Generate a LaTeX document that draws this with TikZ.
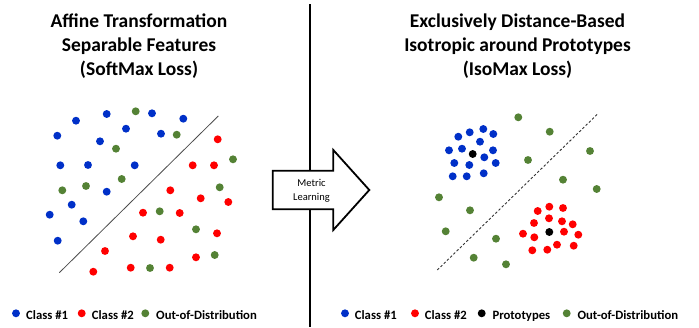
\documentclass[tikz,border=0pt]{standalone}
\usepackage{fontspec}
\setmainfont{Carlito}
\usepackage{tikz}
\usetikzlibrary{positioning}
\definecolor{clsblue}{HTML}{0030C8}
\definecolor{clsred}{HTML}{FF0000}
\definecolor{oodgreen}{HTML}{548235}
\tikzset{
  title/.style={font=\fontsize{19.5}{24}\selectfont\bfseries, align=center},
  legend/.style={font=\fontsize{12.7}{15}\selectfont\bfseries, inner sep=0pt, anchor=base west},
  arrowtext/.style={font=\fontsize{10.5}{13.6}\selectfont, align=center, inner sep=0pt},
  blockarrow/.style={draw, fill=white, line width=1.8pt, line join=miter},
  divider/.style={line width=2pt},
  boundary/.style={draw=black!70, line width=0.8pt},
  dashboundary/.style={draw=black!80, line width=0.9pt, dash pattern=on 2.5pt off 2pt},
}
\newcommand{\dotr}{3.95}

\begin{document}
\begin{tikzpicture}[x=1pt,y=-1pt]
\useasboundingbox (0,0) rectangle (699,327);
% titles
\node[title] (softmaxtitle) at (139,46) {Affine Transformation\\Separable Features\\(SoftMax Loss)};
\node[title] (isomaxtitle) at (517.5,46) {Exclusively Distance-Based\\Isotropic around Prototypes\\(IsoMax Loss)};
% divider and arrow
\coordinate (divtop) at (309.5,4);
\coordinate (divbot) at (309.5,327);
\draw[divider] (divtop) -- (divbot);
\draw[blockarrow] (272.7,170.7) -- (333.3,170.7) -- (333.3,150) -- (369.3,190) -- (333.3,230) -- (333.3,209.3) -- (272.7,209.3) -- cycle;
\node[arrowtext] (metric) at (311.5,190.5) {Metric\\Learning};
% left: softmax features
\coordinate (sepA) at (59.3,272.7);
\coordinate (sepB) at (218.3,116);
\draw[boundary] (sepA) -- (sepB);
\foreach \x/\y in {76/120.7,106.7/114,152/113.3,183.3/118.7,57.3/135.7,126/128.7,161/133.7,100/141.3,60.3/165.3,88/165,134.7/165.3,106.7/191.7,71.7/204.7,49.7/214.7,83.3/221.3,57.7/240.7}
  \fill[clsblue] (\x,\y) circle (\dotr);
\foreach \x/\y in {217.7/139.3,192.7/165.3,214/165.3,170.3/190.3,200.7/198.3,228.3/202,143/212.7,179.7/213,133/236.3,160.7/239.7,217/233.3,105/251,196/257.3,93.3/271.7,130.7/267.7,169.7/267.7}
  \fill[clsred] (\x,\y) circle (\dotr);
\foreach \x/\y in {135.7/111.3,176.7/134.7,116/148.7,233/159.3,121.7/179,62.3/190.3,86/186,219.7/187.3,159.7/211.3,196/229.3,214.7/255,150/268}
  \fill[oodgreen] (\x,\y) circle (\dotr);
% right: isomax features
\coordinate (sepC) at (437.3,270);
\coordinate (sepD) at (597.3,114.3);
\draw[dashboundary] (sepC) -- (sepD);
\foreach \x/\y in {458.3/136.7,469.7/132.3,483.3/129,493.3/134,480/141.7,449/150.3,462/148.7,493/150.3,484.3/157.3,454.3/163,469.3/165,495.7/163,452.7/176.3,466.7/176.3,483.7/173.3}
  \fill[clsblue] (\x,\y) circle (\dotr);
\foreach \x/\y in {537.7/211,549.3/206.7,563/208,534/223,549/218.3,562/221.3,572.7/224.3,523/233.7,534.3/237.3,564/231.7,578.3/234.7,532.3/250.3,547.3/249.7,557/244.7,573.7/245.7}
  \fill[clsred] (\x,\y) circle (\dotr);
\foreach \x/\y in {518.3/117.3,549.7/131.7,590/151,528/160,563/179.7,596.7/189,439/197.3,470/210.3,445.7/231.3,496/238.7,473.7/257.7,506/264.3}
  \fill[oodgreen] (\x,\y) circle (\dotr);
\fill[black] (472.7,154) circle (\dotr);
\fill[black] (549.3,232) circle (\dotr);
% legends
\node[legend] (lclass1) at (26,319.3) {Class \#1};
\node[legend] (lclass2) at (91.7,319.3) {Class \#2};
\node[legend] (lood) at (156,319.3) {Out-of-Distribution};
\fill[clsblue] (16,313.3) circle (\dotr);
\fill[clsred] (81.7,313.3) circle (\dotr);
\fill[oodgreen] (145.3,313.3) circle (\dotr);
\node[legend] (rclass1) at (354.7,319.3) {Class \#1};
\node[legend] (rclass2) at (424.7,319.3) {Class \#2};
\node[legend] (rproto) at (492.3,319.3) {Prototypes};
\node[legend] (rood) at (577.3,319.3) {Out-of-Distribution};
\fill[clsblue] (345,313.3) circle (\dotr);
\fill[clsred] (415,313.3) circle (\dotr);
\fill[black] (481.7,313.3) circle (\dotr);
\fill[oodgreen] (566.7,313.3) circle (\dotr);
\end{tikzpicture}
\end{document}
